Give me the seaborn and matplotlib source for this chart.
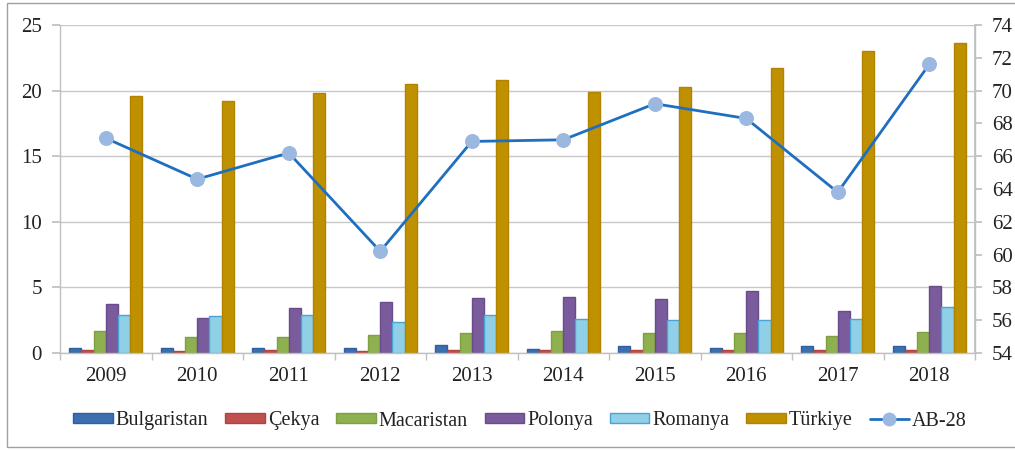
import numpy as np
import pandas as pd
import matplotlib
matplotlib.use("Agg")
import matplotlib.pyplot as plt
import seaborn as sns
from matplotlib.patches import Rectangle
from matplotlib.lines import Line2D
from matplotlib.ticker import MultipleLocator, FixedLocator

years = ["2009", "2010", "2011", "2012", "2013", "2014", "2015", "2016", "2017", "2018"]
bulgaristan = [0.4, 0.4, 0.4, 0.4, 0.6, 0.3, 0.5, 0.4, 0.5, 0.5]
cekya = [0.2, 0.15, 0.2, 0.15, 0.2, 0.2, 0.25, 0.2, 0.2, 0.25]
macaristan = [1.7, 1.2, 1.2, 1.35, 1.5, 1.7, 1.5, 1.5, 1.3, 1.6]
polonya = [3.7, 2.7, 3.4, 3.9, 4.2, 4.3, 4.1, 4.7, 3.2, 5.1]
romanya = [2.9, 2.8, 2.9, 2.4, 2.9, 2.6, 2.5, 2.5, 2.6, 3.5]
turkiye = [19.6, 19.2, 19.8, 20.5, 20.8, 19.9, 20.3, 21.7, 23.0, 23.6]
ab28 = [67.1, 64.6, 66.2, 60.2, 66.9, 67.0, 69.2, 68.3, 63.8, 71.6]

series_names = ["Bulgaristan", "Çekya", "Macaristan", "Polonya", "Romanya", "Türkiye"]
series_vals = [bulgaristan, cekya, macaristan, polonya, romanya, turkiye]
fills = ["#3b6fb0", "#c0504d", "#8fb04e", "#7a5c9c", "#8fd0e6", "#bf9000"]
edges = ["#2f5f9e", "#b04441", "#7f9f43", "#6a4c8c", "#4aa3d8", "#b08400"]

rows = []
for name, vals in zip(series_names, series_vals):
    for y, v in zip(years, vals):
        rows.append({"Yıl": y, "Ülke": name, "Değer": v})
df = pd.DataFrame(rows)

sns.set_theme(style="white")
plt.rcParams["font.family"] = ["Liberation Serif", "DejaVu Serif"]

fig = plt.figure(figsize=(10.15, 4.5), dpi=100)
ax = fig.add_axes([60 / 1015, 1 - 353 / 450, 915 / 1015, 328 / 450])

sns.barplot(data=df, x="Yıl", y="Değer", hue="Ülke", order=years,
            hue_order=series_names, palette=fills, width=0.8,
            ax=ax, legend=False, errorbar=None, saturation=1)
for i, cont in enumerate(ax.containers):
    for p in cont:
        p.set_edgecolor(edges[i])
        p.set_linewidth(1.0)

ax.set_ylim(0, 25)
ax.set_xlim(-0.5, 9.5)
ax.yaxis.set_major_locator(MultipleLocator(5))
ax.grid(axis="y", color="#c8c8c8", linewidth=1.0)
ax.set_axisbelow(True)
ax.set_xlabel("")
ax.set_ylabel("")
ax.spines["top"].set_visible(False)
for s in ["left", "bottom", "right"]:
    ax.spines[s].set_color("#c0c0c0")
    ax.spines[s].set_linewidth(1.0)
ax.tick_params(axis="y", which="major", length=6, color="#c0c0c0",
               labelsize=15, labelcolor="#222222", pad=7, left=True)
ax.tick_params(axis="x", which="major", length=0, labelsize=15,
               labelcolor="#222222", pad=10)
ax.xaxis.set_minor_locator(FixedLocator(np.arange(-0.5, 10.0, 1.0)))
ax.tick_params(axis="x", which="minor", length=5, color="#c0c0c0", bottom=True)

ax2 = ax.twinx()
xpos = np.arange(len(years))
sns.lineplot(x=xpos, y=ab28, ax=ax2, color="#1f6fc0", linewidth=2.0,
             marker="o", markersize=10, markerfacecolor="#9ab8e0",
             markeredgecolor="#9ab8e0", legend=False)
ax2.set_ylim(54, 74)
ax2.yaxis.set_major_locator(MultipleLocator(2))
ax2.grid(False)
for s in ["top", "left", "bottom"]:
    ax2.spines[s].set_visible(False)
ax2.spines["right"].set_color("#c0c0c0")
ax2.tick_params(axis="y", length=5, color="#c0c0c0", labelsize=15,
                labelcolor="#222222", pad=7, right=True)
ax2.set_xlim(-0.5, 9.5)

handles = [Rectangle((0, 0), 1, 1, facecolor=f, edgecolor=e, linewidth=1.0)
           for f, e in zip(fills, edges)]
handles.append(Line2D([0], [0], color="#1f6fc0", linewidth=2.0, marker="o",
                      markersize=9, markerfacecolor="#9ab8e0",
                      markeredgecolor="#9ab8e0"))
fig.legend(handles, series_names + ["AB-28"], loc="center",
           bbox_to_anchor=(520 / 1015, 1 - 421 / 450), ncol=7, frameon=False,
           fontsize=14.5, handlelength=1.95, handleheight=0.4,
           columnspacing=0.85, handletextpad=0.15, labelcolor="#222222")

fig.patches.append(Rectangle((7 / 1015, 3 / 450), 1010 / 1015, 444 / 450,
                             transform=fig.transFigure, fill=False,
                             edgecolor="#a0a0a0", linewidth=1.0))

fig.savefig("out.png", dpi=100)
